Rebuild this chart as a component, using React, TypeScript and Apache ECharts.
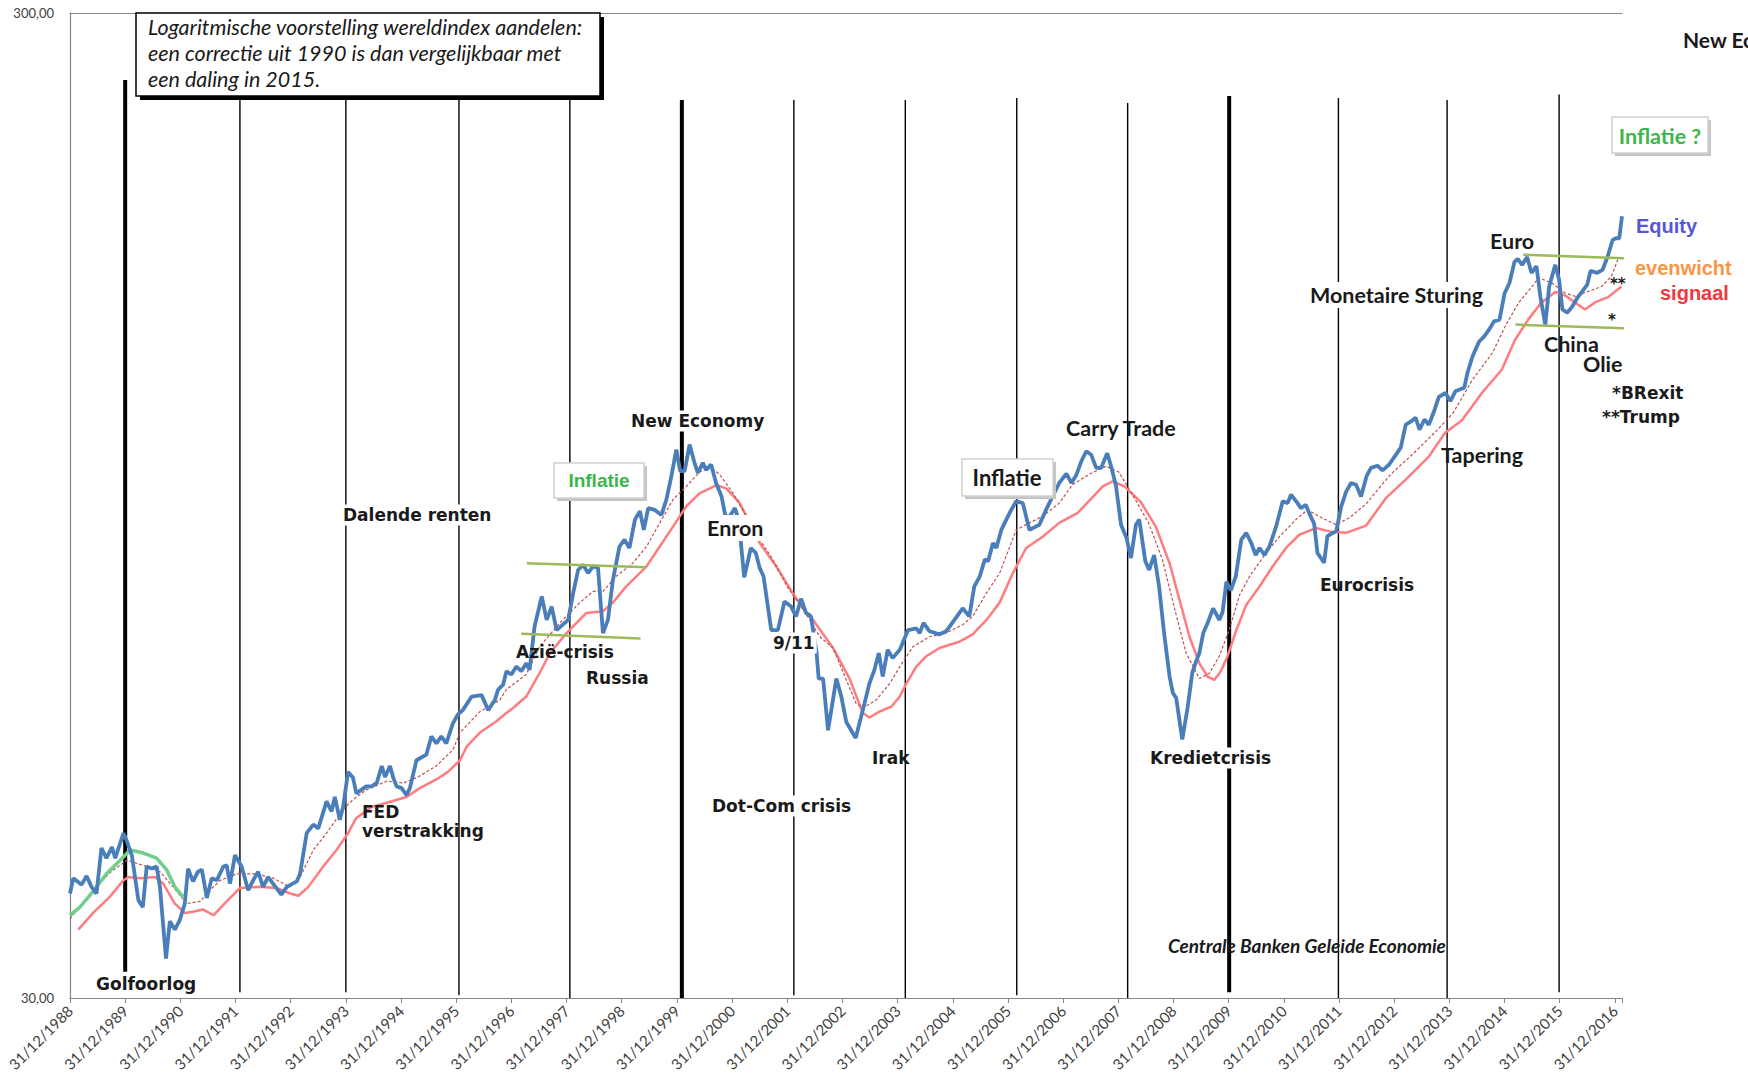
import React, { useEffect, useRef } from "react";
import * as echarts from "echarts";

// x = decimal date; N.0 stands for 31/12/(N-1)
const tickYears: number[] = [1989, 1990, 1991, 1992, 1993, 1994, 1995, 1996, 1997, 1998, 1999, 2000, 2001, 2002, 2003, 2004, 2005, 2006, 2007, 2008, 2009, 2010, 2011, 2012, 2013, 2014, 2015, 2016, 2017];
const yLabels: [number, string][] = [[30, "30,00"], [300, "300,00"]];

const equity: [number, number][] = [
  [1989.00,38.3],[1989.06,39.7],[1989.21,39.1],[1989.30,39.9],[1989.39,38.9],[1989.48,38.3],[1989.57,42.6],[1989.66,41.6],[1989.76,42.7],[1989.82,41.6],[1989.91,43.1],[1989.97,44.1],[1990.03,43.3],[1990.12,41.9],[1990.24,37.7],[1990.32,37.1],[1990.39,40.8],[1990.48,40.6],[1990.57,40.8],[1990.63,38.9],[1990.74,32.9],[1990.81,35.9],[1990.90,35.2],[1990.99,36.0],[1991.08,37.4],[1991.14,40.6],[1991.23,39.4],[1991.32,40.3],[1991.39,40.5],[1991.48,37.9],[1991.57,39.7],[1991.66,39.5],[1991.78,40.8],[1991.84,40.9],[1991.90,39.2],[1991.99,41.9],[1992.11,40.8],[1992.23,38.6],[1992.32,39.5],[1992.41,40.3],[1992.50,38.9],[1992.59,39.8],[1992.68,39.2],[1992.83,38.2],[1992.93,38.9],[1993.11,39.4],[1993.17,40.1],[1993.29,44.1],[1993.41,45.0],[1993.50,44.6],[1993.65,47.5],[1993.74,46.4],[1993.80,48.0],[1993.89,45.5],[1993.95,46.9],[1994.04,50.9],[1994.13,50.2],[1994.19,48.4],[1994.28,48.8],[1994.37,49.2],[1994.47,49.2],[1994.56,49.6],[1994.65,51.6],[1994.71,50.3],[1994.80,51.6],[1994.86,50.2],[1994.92,49.2],[1995.01,49.0],[1995.10,48.2],[1995.16,49.0],[1995.28,52.3],[1995.46,53.0],[1995.55,55.3],[1995.64,54.4],[1995.73,55.3],[1995.82,54.4],[1995.94,57.0],[1996.03,58.2],[1996.12,58.8],[1996.28,60.7],[1996.46,60.9],[1996.58,58.8],[1996.70,60.2],[1996.76,61.7],[1996.85,62.4],[1996.91,64.4],[1997.00,63.9],[1997.09,65.1],[1997.18,64.4],[1997.27,65.6],[1997.33,64.6],[1997.42,71.5],[1997.55,76.7],[1997.64,72.6],[1997.73,74.9],[1997.82,70.9],[1998.03,72.6],[1998.12,77.3],[1998.21,81.6],[1998.30,82.6],[1998.39,81.0],[1998.48,82.3],[1998.57,82.0],[1998.66,70.4],[1998.75,72.6],[1998.84,79.7],[1998.96,86.2],[1999.05,87.6],[1999.14,85.9],[1999.24,91.8],[1999.33,93.6],[1999.40,89.6],[1999.48,94.3],[1999.60,93.9],[1999.72,92.8],[1999.81,96.2],[1999.90,101.6],[1999.99,108.1],[2000.06,102.8],[2000.14,102.8],[2000.23,109.4],[2000.32,104.8],[2000.38,102.4],[2000.47,104.8],[2000.53,103.1],[2000.62,104.4],[2000.71,100.0],[2000.81,96.9],[2000.88,92.5],[2000.96,92.5],[2001.05,94.3],[2001.12,91.8],[2001.22,80.2],[2001.34,85.9],[2001.43,84.9],[2001.50,82.0],[2001.57,80.4],[2001.71,70.9],[2001.83,70.9],[2001.95,75.8],[2002.07,74.9],[2002.16,73.2],[2002.25,76.3],[2002.34,73.8],[2002.43,73.2],[2002.53,67.4],[2002.57,63.3],[2002.65,63.3],[2002.74,56.1],[2002.89,63.3],[2002.98,60.7],[2003.07,57.2],[2003.24,55.1],[2003.37,58.8],[2003.49,62.6],[2003.58,64.6],[2003.66,67.2],[2003.73,63.6],[2003.82,67.7],[2003.91,66.4],[2004.04,67.7],[2004.19,70.9],[2004.34,71.2],[2004.40,70.4],[2004.47,72.1],[2004.58,70.7],[2004.76,70.2],[2004.88,70.7],[2005.03,72.6],[2005.18,74.6],[2005.30,73.2],[2005.39,78.5],[2005.49,80.4],[2005.58,83.6],[2005.64,83.3],[2005.73,86.9],[2005.79,85.9],[2005.88,89.6],[2005.97,91.8],[2006.06,93.9],[2006.15,95.8],[2006.27,95.4],[2006.39,89.6],[2006.57,90.7],[2006.69,93.9],[2006.81,96.9],[2006.93,100.0],[2007.06,102.2],[2007.15,100.0],[2007.24,101.9],[2007.33,105.2],[2007.42,107.7],[2007.51,106.8],[2007.60,103.6],[2007.69,103.6],[2007.80,107.2],[2007.87,104.0],[2007.96,99.2],[2008.05,90.7],[2008.15,87.9],[2008.23,83.9],[2008.32,90.7],[2008.38,91.8],[2008.49,83.3],[2008.56,81.6],[2008.65,84.5],[2008.74,78.5],[2008.83,70.4],[2008.93,63.6],[2008.99,61.2],[2009.05,60.5],[2009.16,54.9],[2009.26,59.3],[2009.34,64.1],[2009.41,65.9],[2009.47,67.2],[2009.54,70.4],[2009.62,72.1],[2009.72,74.6],[2009.83,72.6],[2009.89,73.9],[2009.96,79.4],[2010.04,77.8],[2010.13,80.4],[2010.23,87.6],[2010.32,89.0],[2010.41,86.9],[2010.49,84.5],[2010.56,85.9],[2010.65,84.5],[2010.74,86.2],[2010.86,90.3],[2010.98,95.8],[2011.07,95.4],[2011.13,97.3],[2011.25,95.4],[2011.31,94.3],[2011.40,95.0],[2011.46,93.2],[2011.55,90.9],[2011.61,84.9],[2011.73,83.0],[2011.79,88.3],[2011.89,89.0],[2011.95,89.3],[2012.04,94.6],[2012.13,98.0],[2012.22,100.0],[2012.31,99.6],[2012.40,96.9],[2012.50,101.6],[2012.58,103.6],[2012.70,104.1],[2012.79,103.0],[2012.91,104.4],[2013.03,106.8],[2013.12,108.6],[2013.21,114.6],[2013.30,115.4],[2013.39,116.5],[2013.46,113.3],[2013.55,116.0],[2013.63,114.6],[2013.72,118.1],[2013.81,122.3],[2013.93,123.4],[2014.02,121.1],[2014.11,123.9],[2014.27,124.9],[2014.33,129.4],[2014.42,134.4],[2014.54,139.2],[2014.63,140.8],[2014.72,143.1],[2014.81,145.9],[2014.91,146.5],[2015.00,155.7],[2015.09,159.6],[2015.18,167.6],[2015.24,168.9],[2015.32,166.5],[2015.41,169.6],[2015.49,163.4],[2015.58,166.0],[2015.65,154.6],[2015.74,144.8],[2015.81,158.3],[2015.92,166.5],[2015.99,160.8],[2016.05,150.0],[2016.14,148.9],[2016.23,151.1],[2016.32,154.1],[2016.41,156.5],[2016.50,159.0],[2016.56,164.2],[2016.68,163.4],[2016.78,164.7],[2016.87,169.8],[2016.96,176.5],[2017.02,177.2],[2017.08,177.2],[2017.13,186.5]
];

const signaal: [number, number][] = [
  [1989.15,35.2],[1989.42,36.6],[1989.72,38.0],[1989.97,39.5],[1990.06,39.8],[1990.27,39.7],[1990.54,39.8],[1990.69,39.2],[1990.90,37.4],[1991.08,36.6],[1991.23,36.7],[1991.41,36.9],[1991.60,36.4],[1991.78,37.3],[1992.08,38.8],[1992.44,38.9],[1992.74,38.8],[1992.99,38.3],[1993.14,38.1],[1993.32,38.9],[1993.59,40.8],[1993.83,42.4],[1994.04,44.1],[1994.19,45.7],[1994.47,46.9],[1994.71,47.3],[1995.10,48.0],[1995.34,49.0],[1995.64,50.0],[1995.85,50.9],[1996.07,52.3],[1996.19,54.0],[1996.43,55.8],[1996.73,57.3],[1996.91,58.4],[1997.03,59.1],[1997.27,60.7],[1997.51,64.1],[1997.70,67.2],[1998.00,70.4],[1998.36,73.8],[1998.66,74.1],[1998.84,75.6],[1999.08,78.5],[1999.45,82.3],[1999.69,86.2],[1999.93,90.3],[2000.17,94.7],[2000.41,97.6],[2000.72,99.5],[2000.90,98.7],[2001.14,95.4],[2001.50,86.9],[2001.80,82.3],[2002.10,77.3],[2002.35,73.8],[2002.47,72.6],[2002.83,68.0],[2003.13,63.3],[2003.37,58.4],[2003.49,57.8],[2003.67,58.6],[2003.89,59.3],[2004.04,60.7],[2004.16,62.6],[2004.34,65.1],[2004.52,66.7],[2004.76,68.0],[2005.12,69.0],[2005.36,70.2],[2005.61,72.6],[2005.85,75.6],[2006.09,81.0],[2006.33,85.9],[2006.63,88.2],[2006.93,91.1],[2007.26,93.2],[2007.51,96.4],[2007.72,99.2],[2007.90,100.4],[2008.11,99.2],[2008.41,95.6],[2008.68,90.3],[2008.93,82.9],[2009.11,76.1],[2009.29,69.8],[2009.47,65.6],[2009.62,63.6],[2009.74,63.1],[2009.86,64.4],[2009.98,66.7],[2010.14,70.9],[2010.32,75.2],[2010.56,78.5],[2010.80,82.3],[2011.04,85.9],[2011.28,88.6],[2011.58,90.0],[2011.83,89.3],[2012.13,89.0],[2012.49,90.5],[2012.85,96.5],[2013.21,100.8],[2013.62,106.2],[2013.92,112.4],[2014.23,115.8],[2014.59,123.4],[2014.95,130.3],[2015.19,139.7],[2015.43,146.5],[2015.67,152.5],[2015.92,156.3],[2016.10,155.0],[2016.28,152.5],[2016.46,150.0],[2016.64,152.5],[2016.88,154.4],[2017.12,158.3]
];

const evenwicht: [number, number][] = [
  [1989.00,36.1],[1989.42,38.6],[1989.72,40.2],[1990.03,41.4],[1990.33,40.9],[1990.63,40.3],[1990.87,38.9],[1991.11,37.4],[1991.36,37.6],[1991.48,38.3],[1991.72,39.5],[1992.02,40.1],[1992.38,40.1],[1992.68,39.7],[1992.99,38.9],[1993.17,39.8],[1993.41,42.4],[1993.65,44.1],[1993.95,46.6],[1994.13,47.7],[1994.37,48.8],[1994.74,49.8],[1995.04,49.6],[1995.28,50.2],[1995.64,51.6],[1995.94,53.6],[1996.07,55.8],[1996.43,58.6],[1996.79,60.2],[1996.91,61.7],[1997.27,63.9],[1997.51,68.2],[1997.88,72.1],[1998.24,75.6],[1998.48,77.6],[1998.66,77.6],[1998.90,80.4],[1999.20,82.9],[1999.45,86.2],[1999.69,91.1],[1999.93,96.2],[2000.17,99.2],[2000.41,102.6],[2000.62,103.8],[2000.78,101.9],[2001.02,97.6],[2001.26,92.5],[2001.50,87.6],[2001.74,83.6],[2002.01,78.3],[2002.35,73.5],[2002.59,69.8],[2002.83,68.0],[2003.07,63.1],[2003.25,59.7],[2003.37,59.1],[2003.61,60.2],[2003.86,62.6],[2004.04,65.1],[2004.28,68.2],[2004.58,69.8],[2004.88,70.4],[2005.18,71.8],[2005.36,73.2],[2005.61,77.3],[2005.85,81.0],[2006.15,89.6],[2006.39,91.1],[2006.63,92.5],[2006.93,95.4],[2007.17,99.6],[2007.48,102.1],[2007.78,104.0],[2008.01,102.6],[2008.28,96.8],[2008.55,91.1],[2008.80,83.6],[2009.04,73.8],[2009.23,67.2],[2009.47,63.3],[2009.65,64.1],[2009.83,66.7],[2010.01,70.9],[2010.20,77.0],[2010.38,80.4],[2010.68,84.9],[2010.92,88.2],[2011.22,91.8],[2011.43,93.9],[2011.70,92.1],[2011.95,90.7],[2012.19,92.2],[2012.49,95.2],[2012.79,99.8],[2012.96,102.3],[2013.30,106.5],[2013.75,112.7],[2014.07,117.8],[2014.42,127.3],[2014.78,135.5],[2015.02,144.5],[2015.26,152.5],[2015.50,158.3],[2015.62,161.5],[2015.86,159.6],[2016.10,155.9],[2016.28,154.7],[2016.52,156.5],[2016.76,158.3],[2016.94,162.2],[2017.06,168.9]
];

const earlyTrend: [number, number][] = [
  [1989.00,36.4],[1989.18,37.1],[1989.42,38.5],[1989.66,40.1],[1989.91,41.4],[1990.09,42.4],[1990.33,42.1],[1990.57,41.6],[1990.75,40.5],[1990.90,38.9],[1991.05,38.0]
];

const rangeLines: [number, number][][] = [
  [[1997.28, 82.9], [1999.45, 82.1]],
  [[1997.18, 70.3], [1999.34, 69.5]],
  [[2015.34, 170.5], [2017.49, 168.9]],
  [[2015.20, 144.8], [2017.35, 143.5]],
];

const eventDates: number[] = [1990.0, 1992.08, 1994.0, 1996.05, 1998.06, 2000.09, 2002.12, 2004.14, 2006.16, 2008.17, 2010.01, 2011.99, 2013.96, 2015.99];
const eventTops: number[] = [256.5, 245.9, 245.9, 245.9, 245.9, 244.8, 244.8, 244.8, 245.9, 243.1, 247.1, 245.9, 244.8, 248.0];
const eventBottoms: number[] = [31.9, 30.4, 30.4, 30.2, 30.0, 30.0, 30.2, 30.0, 30.2, 30.0, 30.4, 30.0, 30.0, 30.4];
const eventThick: boolean[] = [true, false, false, false, false, true, false, false, false, false, true, false, false, false];

const ARIALB = "bold 17px 'DejaVu Sans'";
const CALB = "bold 21.5px Lato";
const INK = "#1a1a1a";

function txt(text: string, x: number, y: number, font: string, fill = INK, bg = false, align = "left") {
  return {
    type: "text",
    x,
    y,
    z: 100,
    silent: true,
    style: {
      text,
      font,
      fill,
      textAlign: align,
      textVerticalAlign: "middle",
      verticalAlign: "middle",
      backgroundColor: bg ? "#ffffff" : undefined,
      padding: bg ? [2, 2] : 0,
    },
  };
}

function box(x: number, y: number, w: number, h: number, stroke: string, shadow: string, off: number) {
  return [
    { type: "rect", z: 98, silent: true, shape: { x: x + off, y: y + off, width: w, height: h }, style: { fill: shadow } },
    { type: "rect", z: 99, silent: true, shape: { x, y, width: w, height: h }, style: { fill: "#ffffff", stroke, lineWidth: 1.5 } },
  ];
}

export default function App() {
  const ref = useRef<HTMLDivElement>(null);
  useEffect(() => {
    if (!ref.current) return;
    const chart = echarts.init(ref.current, null, { renderer: "svg" });
    const xMin = tickYears[0];
    const xMax = 2017.13;

    const eventSeries = eventDates.map((d, i) => ({
      type: "line",
      name: "event" + i,
      data: [[d, eventTops[i]], [d, eventBottoms[i]]],
      showSymbol: false,
      silent: true,
      z: 1,
      lineStyle: { color: "#000000", width: eventThick[i] ? 4 : 1.4 },
    }));

    const rangeSeries = rangeLines.map((seg, i) => ({
      type: "line",
      name: "range" + i,
      data: seg,
      showSymbol: false,
      silent: true,
      clip: false,
      z: 6,
      lineStyle: { color: "#9bbb59", width: 2.5 },
    }));

    const option: any = {
      animation: false,
      backgroundColor: "#ffffff",
      grid: { left: 70, right: 126, top: 13, bottom: 82 },
      xAxis: [
        {
          type: "value",
          min: xMin,
          max: xMax,
          interval: 1,
          axisLine: { show: true, lineStyle: { color: "#868686", width: 1.2 } },
          axisTick: { show: true, length: 5, lineStyle: { color: "#868686" } },
          splitLine: { show: false },
          axisLabel: {
            rotate: 45,
            margin: 10,
            color: "#404040",
            fontFamily: "Lato",
            fontSize: 15,
            formatter: (v: number) => {
              const r = Math.round(v);
              if (Math.abs(v - r) > 1e-6 || tickYears.indexOf(r) < 0) return "";
              return "31/12/" + (r - 1);
            },
          },
        },
        {
          type: "value",
          position: "top",
          min: xMin,
          max: xMax,
          interval: 1,
          axisLine: { show: true, lineStyle: { color: "#868686", width: 1.2 } },
          axisTick: { show: false },
          axisLabel: { show: false },
          splitLine: { show: false },
        },
      ],
      yAxis: {
        type: "log",
        logBase: 10,
        min: 30,
        max: 300,
        axisLine: { show: true, lineStyle: { color: "#868686", width: 1.2 } },
        axisTick: { show: false },
        splitLine: { show: false },
        axisLabel: {
          margin: 16,
          color: "#404040",
          fontFamily: "Lato",
          fontSize: 13,
          formatter: (v: number) => {
            for (const [val, lab] of yLabels) if (Math.abs(v - val) / val < 0.01) return lab;
            return "";
          },
        },
      },
      series: [
        ...eventSeries,
        {
          type: "line", name: "signaal", data: signaal, showSymbol: false, silent: true, z: 3,
          lineStyle: { color: "#ff7c80", width: 2.5 },
        },
        {
          type: "line", name: "evenwicht", data: evenwicht, showSymbol: false, silent: true, z: 3,
          lineStyle: { color: "#c0504d", width: 1.2, type: [3, 2] },
        },
        {
          type: "line", name: "trend", data: earlyTrend, showSymbol: false, silent: true, z: 4,
          lineStyle: { color: "#6fcf8c", width: 3.5 },
        },
        {
          type: "line", name: "Equity", data: equity, showSymbol: false, silent: true, z: 5, clip: false,
          lineStyle: { color: "#4a7ebb", width: 3.8 },
        },
        ...rangeSeries,
      ],
      graphic: [
        ...box(136, 13, 464, 83, "#000000", "#000000", 4),
        {
          type: "text", x: 148, y: 14, z: 100, silent: true,
          style: {
            text: "Logaritmische voorstelling wereldindex aandelen:\neen correctie uit 1990 is dan vergelijkbaar met\neen daling in 2015.",
            font: "italic 21.5px Lato", fill: INK, lineHeight: 26, textAlign: "left", textVerticalAlign: "top", verticalAlign: "top",
          },
        },
        ...box(554, 463, 90, 35, "#cfcfcf", "#c4c4c4", 3),
        txt("Inflatie", 599, 480, "bold 19px 'Liberation Sans'", "#3cb54a", false, "center"),
        ...box(962, 459, 91, 37, "#cfcfcf", "#c4c4c4", 3),
        txt("Inflatie", 1007, 477, "bold 22px Lato", INK, false, "center"),
        ...box(1612, 117, 96, 36, "#cfcfcf", "#c4c4c4", 3),
        txt("Inflatie ?", 1660, 136, "bold 21.5px Lato", "#3cb54a", false, "center"),
        txt("Golfoorlog", 96, 984, ARIALB),
        txt("FED", 362, 812, ARIALB),
        txt("verstrakking", 362, 831, ARIALB),
        txt("Dalende renten", 341, 515, ARIALB, INK, true),
        txt("Azië-crisis", 516, 652, ARIALB),
        txt("Russia", 586, 678, ARIALB),
        txt("New Economy", 629, 421, ARIALB, INK, true),
        txt("Enron", 705, 528, CALB, INK, true),
        txt("9/11", 771, 643, ARIALB, INK, true),
        txt("Dot-Com crisis", 710, 806, ARIALB, INK, true),
        txt("Irak", 872, 758, ARIALB),
        txt("Carry Trade", 1066, 428, CALB),
        txt("Kredietcrisis", 1148, 758, ARIALB, INK, true),
        txt("Centrale Banken Geleide Economie", 1168, 945, "italic bold 19px Lato"),
        txt("Eurocrisis", 1320, 585, ARIALB),
        txt("Monetaire Sturing", 1308, 295, CALB, INK, true),
        txt("Tapering", 1441, 455, CALB),
        txt("Euro", 1490, 241, CALB),
        txt("China", 1544, 344, CALB),
        txt("Olie", 1583, 364, CALB),
        txt("*BRexit", 1612, 393, ARIALB),
        txt("**Trump", 1602, 417, ARIALB),
        txt("**", 1610, 284, "bold 15px 'DejaVu Sans'"),
        txt("*", 1608, 320, "bold 15px 'DejaVu Sans'"),
        txt("Equity", 1636, 226, "bold 20px 'Liberation Sans'", "#5656d6"),
        txt("evenwicht", 1635, 268, "bold 20px 'Liberation Sans'", "#f79646"),
        txt("signaal", 1660, 293, "bold 20px 'Liberation Sans'", "#f0393c"),
        txt("New Economy", 1683, 39, "bold 21px Lato"),
      ],
    };
    chart.setOption(option);
    return () => chart.dispose();
  }, []);
  return (
    <div
      ref={ref}
      style={{ position: "fixed", left: 0, top: 0, width: 1748, height: 1080, background: "#ffffff" }}
    />
  );
}
